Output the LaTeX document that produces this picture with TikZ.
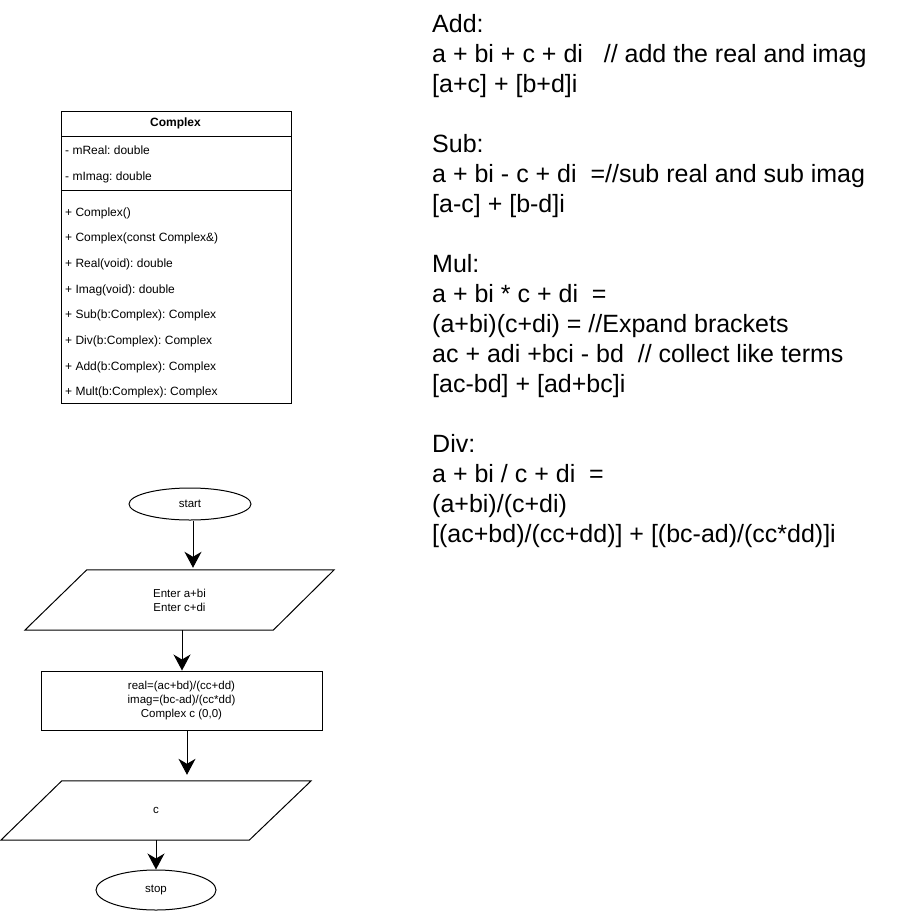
\documentclass[tikz,border=0pt]{standalone}
\usepackage{fontspec}
\setmainfont{Liberation Sans}
\usetikzlibrary{arrows.meta,shapes.geometric,calc}
\frenchspacing
\begin{document}
\frenchspacing
\begin{tikzpicture}[x=1pt,y=-1pt,
  small/.style={font=\fontsize{11.5}{14}\selectfont},
  umltext/.style={font=\fontsize{12}{14}\selectfont, anchor=base west, inner sep=0},
  big/.style={font=\fontsize{25}{30}\selectfont, anchor=base west, inner sep=0},
  arr/.style={-{Stealth[length=16pt,width=17pt,inset=5pt]}, line width=1pt},
  term/.style={ellipse, draw, line width=1pt, inner sep=0, small},
  procbox/.style={rectangle, draw, line width=1pt, inner sep=0, small, align=center},
  iobox/.style={rectangle, inner sep=0, small, align=center},
  para/.style={line width=1pt}
]
\useasboundingbox (0,0) rectangle (901,911);

% ---- UML class ----
\node[draw, line width=1pt, anchor=north west, minimum width=229.5pt, minimum height=292.5pt, inner sep=0] (cls) at (61,110.5) {};
\node[font=\fontsize{12}{14}\selectfont\bfseries, inner sep=0] (clsname) at (175.5,123.5) {Complex};
\draw[line width=1pt] (61,136.5) -- (290.5,136.5);
\draw[line width=1pt] (61,190.5) -- (290.5,190.5);
\node[umltext] (f1) at (65,154) {- mReal: double};
\node[umltext] (f2) at (65,180.5) {- mImag: double};
\node[umltext] (m1) at (65,216) {+ Complex()};
\node[umltext] (m2) at (65,241.7) {+ Complex(const Complex\&)};
\node[umltext] (m3) at (65,267.4) {+ Real(void): double};
\node[umltext] (m4) at (65,293.1) {+ Imag(void): double};
\node[umltext] (m5) at (65,318.8) {+ Sub(b:Complex): Complex};
\node[umltext] (m6) at (65,344.5) {+ Div(b:Complex): Complex};
\node[umltext] (m7) at (65,370.2) {+ Add(b:Complex): Complex};
\node[umltext] (m8) at (65,395.9) {+ Mult(b:Complex): Complex};

% ---- flowchart ----
\node[term, minimum width=122pt, minimum height=32pt] (start) at (190,504) {start};

\node[iobox, minimum width=309pt, minimum height=60pt] (in1) at (179.5,600) {Enter a+bi\\Enter c+di};
\draw[para] ($(in1.north west)+(62,0)$) -- (in1.north east) -- ($(in1.south east)+(-61,0)$) -- (in1.south west) -- cycle;

\node[procbox, minimum width=281pt, minimum height=59pt] (calc) at (181.5,700.5) {real=(ac+bd)/(cc+dd)\\imag=(bc-ad)/(cc*dd)\\Complex c (0,0)};

\node[iobox, minimum width=310pt, minimum height=59pt] (out) at (156,810.5) {c};
\draw[para] ($(out.north west)+(61,0)$) -- (out.north east) -- ($(out.south east)+(-62,0)$) -- (out.south west) -- cycle;

\node[term, minimum width=120pt, minimum height=40pt] (stop) at (156,890) {stop};

\coordinate (x1) at (193,0);
\coordinate (x2) at (182,0);
\coordinate (x3) at (187,0);
\coordinate (x4) at (156,0);
\draw[arr, shorten >=2pt] (start.south -| x1) -- (in1.north -| x1);
\draw[arr] (in1.south -| x2) -- (calc.north -| x2);
\draw[arr, shorten >=6pt] (calc.south -| x3) -- (out.north -| x3);
\draw[arr] (out.south -| x4) -- (stop.north -| x4);

% ---- notes ----
\node[big] (t0) at (432,32) {Add:};
\node[big] (t1) at (432,62) {a + bi + c + di\ \ \ // add the real and imag};
\node[big] (t2) at (432,92) {[a+c] + [b+d]i};
\node[big] (t4) at (432,152) {Sub:};
\node[big] (t5) at (432,182) {a + bi - c + di\ \ =//sub real and sub imag};
\node[big] (t6) at (432,212) {[a-c] + [b-d]i};
\node[big] (t8) at (432,272) {Mul:};
\node[big] (t9) at (432,302) {a + bi * c + di\ \ =};
\node[big] (t10) at (432,332) {(a+bi)(c+di) = //Expand brackets};
\node[big] (t11) at (432,362) {ac + adi +bci - bd\ \ // collect like terms};
\node[big] (t12) at (432,392) {[ac-bd] + [ad+bc]i};
\node[big] (t14) at (432,452) {Div:};
\node[big] (t15) at (432,482) {a + bi / c + di\ \ =};
\node[big] (t16) at (432,512) {(a+bi)/(c+di)};
\node[big] (t17) at (432,542) {[(ac+bd)/(cc+dd)] + [(bc-ad)/(cc*dd)]i};
\end{tikzpicture}
\end{document}
